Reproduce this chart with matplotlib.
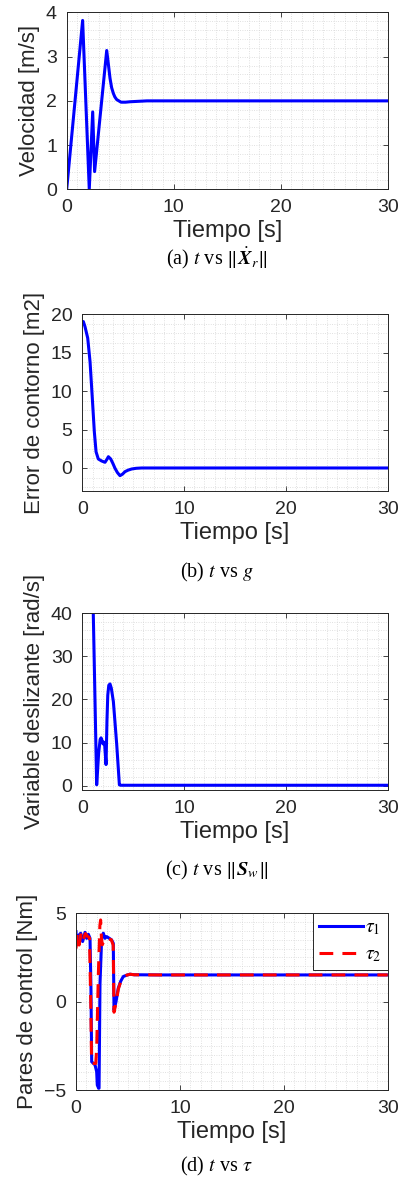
"""Four stacked MATLAB-style response plots with captions (a)-(d)."""
import matplotlib
matplotlib.use("Agg")
import matplotlib.pyplot as plt
from matplotlib.ticker import MultipleLocator

# (a) speed norm
t_vel = [0.0, 1.49, 2.11, 2.43, 2.61, 3.74, 3.9, 4.05, 4.2, 4.36, 4.5, 4.67,
         5.08, 5.5, 5.92, 7.5, 30.0]
vel = [0.0, 3.82, 0.0, 1.75, 0.4, 3.14, 2.82, 2.51, 2.3, 2.17, 2.09, 2.03,
       1.97, 1.97, 1.98, 2.0, 2.0]

# (b) contour error
t_err = [0.0, 0.1, 0.26, 0.53, 0.76, 0.98, 1.18, 1.35, 1.57, 1.9, 2.23, 2.45,
         2.56, 2.79, 3.0, 3.21, 3.45, 3.7, 3.95, 4.19, 4.5, 4.85, 5.3, 5.83, 30.0]
err = [19.0, 19.05, 18.4, 16.9, 13.8, 9.1, 4.7, 2.1, 1.17, 0.91, 0.74, 1.2,
       1.47, 1.17, 0.6, -0.04, -0.6, -1.0, -0.8, -0.48, -0.28, -0.13, -0.04, 0.0, 0.0]

# (c) sliding variable norm
t_sw = [0.0, 0.95, 1.41, 1.5, 1.6, 1.75, 1.84, 1.93, 2.03, 2.1, 2.18, 2.33,
        2.42, 2.5, 2.6, 2.72, 2.85, 3.05, 3.2, 3.38, 3.52, 3.64, 3.75, 30.0]
sw = [200.0, 55.0, 0.2, 3.5, 7.5, 10.7, 11.1, 10.5, 9.7, 10.1, 10.0, 4.9,
      15.0, 21.0, 23.3, 23.6, 22.6, 19.5, 15.0, 9.5, 4.5, 0.2, 0.1, 0.1]

# (d) control torques
t_tau1 = [0.0, 0.06, 0.2, 0.45, 0.64, 0.87, 1.03, 1.19, 1.35, 1.44, 1.51, 1.83,
          1.99, 2.05, 2.18, 2.22, 2.31, 2.47, 2.63, 2.79, 2.95, 3.21, 3.43, 3.59,
          3.66, 3.85, 4.07, 4.3, 4.55, 4.9, 5.2, 5.6, 8.08, 30.0]
tau1 = [3.96, 3.21, 3.7, 3.87, 3.4, 3.92, 3.58, 3.81, 3.58, 0.76, -3.4, -3.58,
        -3.96, -4.72, -4.9, -4.9, 1.0, 3.58, 3.87, 3.58, 3.68, 3.58, 3.49, 3.3,
        -0.47, -0.01, 0.76, 1.15, 1.42, 1.5, 1.55, 1.52, 1.51, 1.51]
t_tau2 = [0.0, 0.12, 0.3, 0.5, 0.7, 0.9, 1.1, 1.3, 1.42, 1.5, 1.6, 1.9, 1.99,
          2.15, 2.3, 2.37, 2.45, 2.53, 2.8, 3.1, 3.4, 3.58, 3.66, 3.85, 4.07,
          4.3, 4.55, 4.9, 5.2, 5.6, 8.08, 30.0]
tau2 = [3.0, 3.8, 3.2, 3.9, 3.5, 3.85, 3.7, 3.6, 0.0, -3.4, -3.5, -3.5, -2.7,
        1.5, 4.3, 4.62, 3.6, 3.21, 3.6, 3.55, 3.5, 3.2, -0.6, -0.1, 0.7,
        1.12, 1.4, 1.5, 1.55, 1.52, 1.51, 1.51]

DARK = "#262626"
plt.rcParams["font.family"] = ["Liberation Sans", "DejaVu Sans"]
plt.rcParams["mathtext.fontset"] = "stix"


def style_axes(ax, ylim, ymajor, yminor, ylabel):
    ax.set_xlim(0, 30)
    ax.set_ylim(*ylim)
    ax.xaxis.set_major_locator(MultipleLocator(10))
    ax.xaxis.set_minor_locator(MultipleLocator(1))
    ax.yaxis.set_major_locator(MultipleLocator(ymajor))
    ax.yaxis.set_minor_locator(MultipleLocator(yminor))
    ax.grid(True, which="both", color="#d6d6d6", linestyle=(0, (1, 1.8)),
            linewidth=0.6)
    ax.set_axisbelow(True)
    ax.tick_params(which="major", direction="in", length=3.5, width=0.6,
                   top=True, right=True, colors=DARK, labelsize=14, pad=7)
    ax.tick_params(which="minor", length=0, top=True, right=True)
    for s in ax.spines.values():
        s.set_color(DARK)
        s.set_linewidth(0.7)
    ax.set_xlabel("Tiempo [s]", fontsize=17, color=DARK, labelpad=3)
    ax.set_ylabel(ylabel, fontsize=16, color=DARK, labelpad=4)


fig = plt.figure(figsize=(4.01, 11.77), dpi=100)
H = 0.1502

ax_a = fig.add_axes([0.1663, 0.8392, 0.8005, H])
ax_a.plot(t_vel, vel, color="#0000ff", lw=2.2)
style_axes(ax_a, (0, 4), 1, 0.2, "Velocidad [m/s]")

ax_b = fig.add_axes([0.2053, 0.5828, 0.7615, H])
ax_b.plot(t_err, err, color="#0000ff", lw=2.2)
style_axes(ax_b, (-3, 20), 5, 1.25, "Error de contorno [m2]")

ax_c = fig.add_axes([0.2053, 0.3288, 0.7615, H])
ax_c.plot(t_sw, sw, color="#0000ff", lw=2.2)
style_axes(ax_c, (-1, 40), 10, 2, "Variable deslizante [rad/s]")

ax_d = fig.add_axes([0.1895, 0.0739, 0.7773, H])
ax_d.plot(t_tau1, tau1, color="#0000ff", lw=2.2, label=r"$\tau_1$")
ax_d.plot(t_tau2, tau2, color="#ff0000", lw=2.2, ls=(0, (4.5, 3)),
          label=r"$\tau_2$")
style_axes(ax_d, (-5, 5), 5, 0.5, "Pares de control [Nm]")
leg = ax_d.legend(loc="upper right", fontsize=14, borderaxespad=0,
                  fancybox=False, framealpha=1, handlelength=2.3,
                  handletextpad=0.1, labelspacing=0.45, borderpad=0.3)
leg.get_frame().set_edgecolor(DARK)
leg.get_frame().set_linewidth(0.7)

captions = [
    (0.7808, r"(a) $t$ vs $\|\dot{\boldsymbol{X}}_r\|$"),
    (0.5140, r"(b) $t$ vs $g$"),
    (0.2600, r"(c) $t$ vs $\|\boldsymbol{S}_w\|$"),
    (0.0093, r"(d) $t$ vs $\tau$"),
]
for y, txt in captions:
    fig.text(0.54, y, txt, ha="center", va="center", fontsize=14.5,
             family=["Liberation Serif", "DejaVu Serif"], color="black")

fig.savefig("out.png", dpi=100)
